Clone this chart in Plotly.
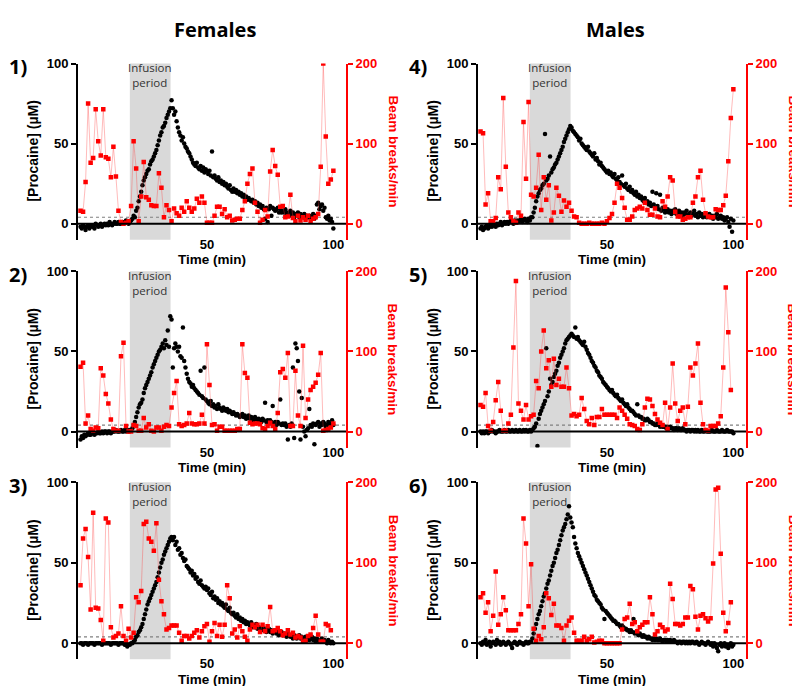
import plotly.graph_objects as go

# ---------------- data ----------------
# Procaine concentration (uM), sampled every 0.5 min from t = 0
conc_p1 = [-2,-3,-1,-2,-4,-2,-1,-3,-2,-1,-2,-3,0,-1,-2,-1,0,-2,-1,0,-1,
           0,-1,1,0,-1,0,1,0,0,1,0,0,1,0,1,2,1,0,1,2,
           3,5,4,8,10,14,17,20,24,27,29,31,33,34,37,39,40,42,44,46,49,52,55,57,60,61,63,66,68,70,72,77,
           72,68,70,64,60,57,55,52,54,50,48,47,45,44,42,40,38,37,36,38,35,34,36,33,35,32,34,33,
           31,33,30,45,29,30,28,27,29,26,27,25,26,24,25,23,22,24,21,20,
           22,20,21,19,20,18,19,17,18,16,17,15,16,15,14,15,13,14,12,13,
           11,12,10,11,9,3,10,1,9,11,5,10,9,8,9,10,7,9,7,8,
           7,9,6,7,5,8,6,7,4,6,5,7,4,6,5,4,6,3,5,4,
           5,3,4,6,3,5,12,13,9,11,12,8,10,4,3,5,2,3,1,-3]
conc_p2 = [-5,-3,-4,-2,-3,-2,-1,-2,-2,-1,-1,-2,-1,-1,0,-1,-1,0,-1,0,0,
           -1,0,0,-1,0,0,0,1,0,0,0,1,0,0,1,0,1,0,1,1,
           2,4,6,9,12,15,17,18,20,24,27,29,31,33,35,37,40,42,44,46,48,50,51,53,55,52,57,54,63,53,72,70,
           40,52,55,53,50,53,47,46,65,44,40,36,33,31,30,28,29,27,26,25,24,23,38,22,21,40,20,19,
           18,17,19,16,17,15,16,14,17,15,14,13,15,14,13,14,12,13,12,11,
           12,11,10,11,10,9,10,11,9,10,8,9,10,8,9,8,7,9,8,7,
           8,7,6,8,7,18,6,7,5,7,6,16,5,6,4,6,5,20,4,5,
           4,5,3,-5,4,3,5,40,-4,55,52,44,25,-5,21,3,0,-3,1,2,
           14,4,3,5,-8,4,5,6,3,5,4,6,5,3,4,6,5,4,7,4]
conc_p3 = [0,0,-1,0,0,0,-1,0,0,0,0,-1,0,0,0,0,0,-1,0,0,0,
           0,0,0,-1,0,0,0,0,0,-1,0,0,0,0,-1,-1,-2,-1,-1,0,
           0,1,2,4,5,7,8,10,12,15,18,21,24,26,28,30,32,34,36,38,41,44,47,50,52,55,57,59,61,63,65,66,
           64,66,61,63,58,59,55,56,53,51,52,48,47,46,44,45,42,43,40,41,38,37,39,36,35,34,35,33,
           34,31,30,32,28,29,27,28,25,26,24,25,23,22,24,21,20,22,19,18,
           19,17,16,18,15,16,14,15,13,14,12,13,12,11,13,10,11,10,12,9,
           10,9,8,10,8,9,7,8,9,7,8,6,7,8,6,7,5,6,7,5,
           6,5,4,6,5,4,5,3,5,4,3,4,5,3,4,2,3,4,2,3,
           2,3,4,2,3,1,3,2,1,2,3,1,2,1,0,2,1,0,1,0]
conc_p4 = [-3,-2,-4,-3,-2,-1,-3,-2,-1,-2,0,-1,-2,0,-1,0,1,-1,0,1,0,
           1,0,1,2,1,0,2,1,2,1,2,3,1,2,3,2,1,3,2,4,
           4,7,10,14,17,19,21,22,24,25,56,27,28,30,42,32,34,35,37,38,40,42,44,46,48,51,53,55,57,59,61,60,
           58,57,56,55,54,52,53,50,49,48,47,46,48,45,44,43,42,44,40,41,39,37,38,36,35,34,33,32,
           33,31,32,30,29,31,28,27,29,26,25,30,24,23,25,22,21,23,20,21,
           19,18,20,17,18,16,17,15,14,16,13,14,12,13,11,20,12,10,19,11,
           9,18,8,10,9,7,8,9,7,8,6,8,7,9,6,7,8,6,7,5,
           7,6,8,5,6,7,5,6,8,5,6,4,7,5,6,4,5,6,4,5,
           6,4,5,3,5,4,6,3,4,5,3,4,2,3,4,1,-2,3,-5,2]
conc_p5 = [0,-1,0,-1,0,0,-1,0,0,1,0,0,-1,0,0,1,0,0,0,1,0,
           0,1,0,0,1,0,0,1,0,0,1,0,0,1,0,1,0,0,1,0,
           1,2,3,5,-9,8,11,13,15,17,19,52,22,25,33,29,31,34,36,38,41,43,46,48,50,52,55,57,58,59,60,61,
           60,59,65,58,59,57,56,55,54,56,53,51,49,48,46,44,43,41,40,38,37,35,34,33,31,30,29,28,
           27,26,25,26,24,23,22,23,21,20,19,20,18,17,16,17,15,14,13,13,
           12,11,10,17,10,9,9,8,8,7,7,8,7,6,6,5,5,4,4,5,
           4,3,4,3,3,3,2,3,2,3,2,2,1,2,2,1,2,1,1,2,
           1,1,0,1,1,0,1,1,0,1,0,1,0,0,1,0,0,1,0,0,
           0,0,1,0,0,0,1,0,0,0,1,0,0,0,1,0,0,0,0,-1]
conc_p6 = [0,-1,1,0,2,-1,0,1,-2,0,1,0,-1,2,0,1,-1,0,1,0,-1,
           0,1,0,-1,-3,0,1,0,-1,0,1,0,0,-1,0,1,0,0,1,1,
           3,6,9,12,15,18,20,23,26,29,31,34,37,39,42,45,48,50,53,56,58,61,64,67,70,72,74,77,80,85,78,75,
           72,66,62,59,56,54,52,50,48,46,44,42,40,38,36,34,32,30,29,27,26,25,24,22,21,15,20,19,
           18,17,16,15,14,14,13,12,12,11,10,11,10,9,9,8,8,7,8,7,
           15,6,7,6,5,6,5,4,5,4,4,3,4,3,3,2,3,2,3,2,
           2,3,2,1,2,2,1,2,1,2,1,1,2,1,1,0,1,1,0,1,
           1,0,1,0,1,0,1,1,0,0,1,0,-1,0,1,0,0,-1,0,1,
           0,-1,0,-2,0,-1,-3,-5,-1,0,-2,-1,0,-2,-1,-3,-1,0,-2,-1]

# Beam breaks per minute, one value per minute from t = 0
beam_p1 = [16,15,52,150,76,82,143,103,85,143,83,81,58,96,59,16,2,0,1,3,
           22,103,69,3,34,77,33,30,23,22,22,63,45,8,23,17,3,19,13,10,
           20,15,28,20,15,19,31,26,34,26,1,1,1,10,21,21,12,18,8,10,
           4,5,6,6,17,28,50,62,69,26,15,1,5,17,9,65,92,72,61,21,
           22,8,9,36,7,3,10,4,8,5,10,3,6,8,12,71,200,109,50,55,66]
beam_p2 = [81,86,10,20,3,1,5,4,79,70,47,35,15,3,1,1,94,111,7,0,
           0,8,7,1,1,17,5,9,1,0,5,5,1,6,8,7,30,48,63,9,
           7,8,10,23,10,9,9,10,21,10,109,58,8,9,1,6,6,1,1,1,
           1,1,3,3,109,73,67,11,9,10,10,9,4,3,7,11,7,3,23,74,
           78,67,98,7,7,76,20,7,107,17,40,52,56,61,71,98,1,2,3,5,10]
beam_p3 = [72,130,142,107,42,162,44,43,29,3,155,150,20,7,9,12,46,9,3,18,
           7,13,57,51,65,148,151,130,126,115,149,79,52,36,17,19,22,22,22,13,
           3,9,9,6,9,13,16,7,15,21,24,2,15,25,9,23,8,23,72,56,
           12,17,7,21,15,8,3,17,23,20,23,14,23,15,21,45,15,16,19,15,
           10,12,16,11,13,7,9,7,2,3,9,11,19,34,11,2,2,24,22,16]
beam_p4 = [115,113,24,38,3,3,7,58,43,157,71,14,8,3,1,14,10,127,56,152,
           36,34,45,86,17,58,30,48,4,14,45,35,15,29,21,26,16,9,8,1,
           0,0,0,1,0,0,0,0,1,0,3,7,12,26,50,45,32,20,5,5,
           9,17,19,21,19,26,17,11,11,19,9,8,28,21,34,58,54,15,9,9,
           5,6,8,8,26,34,58,66,30,13,9,8,8,18,17,17,23,35,78,132,168]
beam_p5 = [33,31,48,7,1,12,39,62,26,1,1,10,21,105,188,35,26,15,33,15,
           19,21,63,54,100,126,79,89,56,91,58,66,56,56,80,54,20,22,19,21,
           42,28,13,9,17,8,18,18,28,21,21,21,21,21,17,30,26,21,16,9,
           8,7,3,2,9,30,41,40,32,22,15,11,8,36,3,30,85,35,13,26,
           30,9,31,80,70,85,110,36,9,2,1,7,7,7,10,19,80,180,124,52]
beam_p6 = [57,62,38,51,15,34,89,23,36,57,41,16,16,16,16,24,36,155,124,46,
           98,18,3,9,5,20,62,56,35,49,22,22,19,3,22,28,32,13,3,3,
           3,8,3,5,8,1,2,3,3,0,0,0,0,0,0,0,17,30,32,49,
           24,26,15,20,23,26,26,57,36,11,15,23,20,15,17,74,55,24,24,22,
           24,32,32,71,67,33,17,34,36,31,27,31,99,191,193,111,38,15,25,51]

conc_series = [conc_p1, conc_p2, conc_p3, conc_p4, conc_p5, conc_p6]
beam_series = [beam_p1, beam_p2, beam_p3, beam_p4, beam_p5, beam_p6]
panel_labels = ["1)", "2)", "3)", "4)", "5)", "6)"]
group_titles = ["Females", "Males"]
infusion = (19.5, 35.6)
threshold = 4

# ---------------- layout geometry (pixels) ----------------
W, H = 800, 686
cols_px = [(70, 338), (470, 738)]
rows_px = [(49, 227), (259, 437), (472, 651)]

RED = "#ff0000"
TICKFONT = dict(family="Liberation Sans, Arial", size=13, weight="bold")

fig = go.Figure()
annotations = []
shapes = []

def px_x(p):
    return p / W

def px_y(p):
    return 1 - p / H

def ann(**kw):
    d = dict(showarrow=False, xanchor="center", yanchor="middle", borderpad=0)
    d.update(kw)
    return d

for k in range(6):
    col, row = k // 3, k % 3
    x0, x1 = cols_px[col]
    y0, y1 = rows_px[row]
    xa = "x" if k == 0 else f"x{k+1}"
    yl = "y" if k == 0 else f"y{2*k+1}"
    yr = f"y{2*k+2}"
    xname = "xaxis" if k == 0 else f"xaxis{k+1}"
    ylname = "yaxis" if k == 0 else f"yaxis{2*k+1}"
    yrname = f"yaxis{2*k+2}"

    conc = conc_series[k]
    beam = beam_series[k]
    t_conc = [0.5 * i for i in range(len(conc))]
    t_beam = list(range(len(beam)))

    fig.add_trace(go.Scatter(x=t_conc, y=conc, mode="markers", xaxis=xa, yaxis=yl,
                             marker=dict(color="black", size=4.5), showlegend=False,
                             hoverinfo="skip"))
    fig.add_trace(go.Scatter(x=t_beam, y=beam, mode="lines+markers", xaxis=xa, yaxis=yr,
                             line=dict(color="rgba(255,60,60,0.35)", width=1),
                             marker=dict(color=RED, size=4.5, symbol="square"),
                             showlegend=False, hoverinfo="skip"))

    fig.layout[xname] = dict(domain=[px_x(x0), px_x(x1)], range=[-1, 105], anchor=yl,
                             showline=False, showgrid=False, zeroline=False, ticks="",
                             tickvals=[50, 100], tickfont=dict(TICKFONT, color="black"),
                             ticklabelstandoff=-5)
    fig.layout[ylname] = dict(domain=[px_y(y1), px_y(y0)], range=[-10, 100], anchor=xa,
                              showline=True, linecolor="black", linewidth=2,
                              ticks="outside", ticklen=5, tickwidth=2, tickcolor="black",
                              tickvals=[0, 50, 100], showgrid=False, zeroline=False,
                              tickfont=dict(TICKFONT, color="black"))
    fig.layout[yrname] = dict(overlaying=yl, side="right", anchor=xa, range=[-20, 200],
                              showline=True, linecolor=RED, linewidth=2,
                              ticks="outside", ticklen=5, tickwidth=2, tickcolor=RED,
                              tickvals=[0, 100, 200], showgrid=False, zeroline=False,
                              tickfont=dict(TICKFONT, color=RED))

    # infusion shading
    shapes.append(dict(type="rect", xref=xa, yref=f"{yl} domain", x0=infusion[0], x1=infusion[1],
                       y0=0, y1=1, fillcolor="#d9d9d9", line=dict(width=0), layer="below"))
    # threshold dotted line
    shapes.append(dict(type="line", xref=f"{xa} domain", yref=yl, x0=0, x1=1,
                       y0=threshold, y1=threshold, line=dict(color="#808080", width=1.2, dash="dot"),
                       layer="below"))
    # zero line
    shapes.append(dict(type="line", xref=f"{xa} domain", yref=yl, x0=0, x1=1, y0=0, y1=0,
                       line=dict(color="black", width=2), layer="above"))

    cy = (y0 + y1) / 2
    cx = (x0 + x1) / 2
    annotations += [
        ann(text="Infusion<br>period", x=(infusion[0] + infusion[1]) / 2, xref=xa,
            y=px_y(y0 + 12), yref="paper",
            font=dict(family="Open Sans", size=11.5, color="#333333")),
        ann(text="[Procaine] (µM)", x=px_x(x0 - 45), y=px_y(cy), xref="paper", yref="paper",
            textangle=-90,
            font=dict(family="Liberation Sans, Arial", size=14, weight="bold", color="black")),
        ann(text="Beam breaks/min", x=px_x(x1 + 47), y=px_y(cy), xref="paper", yref="paper",
            textangle=90,
            font=dict(family="Liberation Sans, Arial", size=13.5, weight="bold", color=RED)),
        ann(text="Time (min)", x=px_x(cx), y=px_y(y1 + 20), xref="paper", yref="paper",
            font=dict(family="Liberation Sans, Arial", size=13.5, weight="bold", color="black")),
        ann(text=panel_labels[k], x=px_x(x0 - 60), y=px_y(y0 + 3), xref="paper", yref="paper",
            font=dict(family="Open Sans", size=20, weight="bold", color="black")),
    ]

for c, title in enumerate(group_titles):
    x0, x1 = cols_px[c]
    annotations.append(ann(text=title, x=px_x((x0 + x1) / 2 + 3), y=px_y(15), xref="paper",
                           yref="paper",
                           font=dict(family="Open Sans", size=20, weight="bold", color="black")))

fig.update_layout(width=W, height=H, margin=dict(l=0, r=0, t=0, b=0),
                  paper_bgcolor="white", plot_bgcolor="white", showlegend=False,
                  shapes=shapes, annotations=annotations)

fig.write_html("out.html")
